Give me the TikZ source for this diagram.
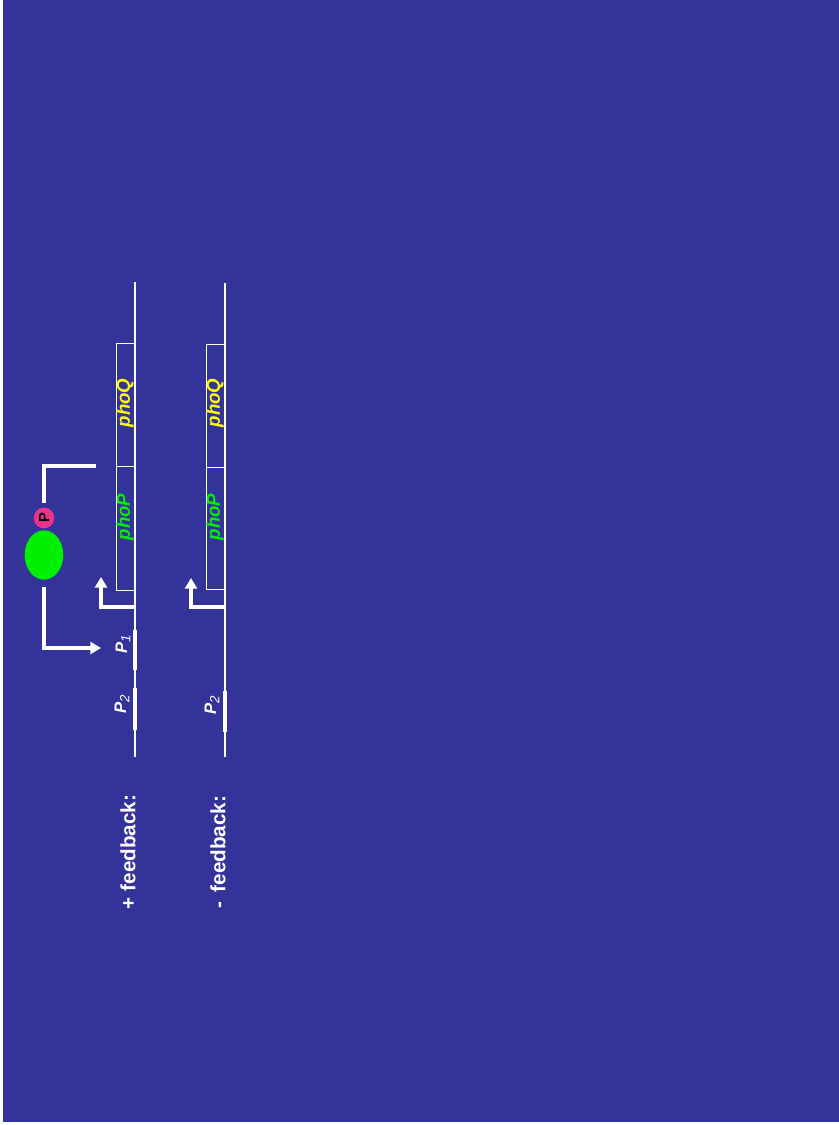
\documentclass[tikz,border=0pt]{standalone}
\usepackage{fontspec}
\setmainfont{Liberation Sans}
\usetikzlibrary{positioning,arrows.meta,shapes.geometric}

\definecolor{slideblue}{RGB}{51,51,153}
\definecolor{genegreen}{RGB}{0,240,0}
\definecolor{phospink}{RGB}{235,50,140}
\definecolor{geneyellow}{RGB}{255,255,0}

\begin{document}
\begin{tikzpicture}[
  x=0.75pt, y=-0.75pt,
  dna/.style={draw=white, line width=1.4pt},
  genebox/.style={draw=white, line width=0.7pt, rotate=90, minimum width=92pt, minimum height=14pt, inner sep=0pt},
  genelbl/.style={font=\fontsize{14}{15}\selectfont\bfseries\itshape, rotate=90, inner sep=0pt},
  promseg/.style={draw=white, line width=3.6pt},
  promlbl/.style={text=white, font=\fontsize{12.5}{13}\selectfont\bfseries\itshape, rotate=90, inner sep=0pt},
  arr/.style={draw=white, line width=2.8pt, -{Triangle[length=8pt,width=9pt]}},
  fbline/.style={draw=white, line width=2.8pt},
  rowlbl/.style={text=white, font=\fontsize{15.5}{16}\selectfont\bfseries, rotate=90, inner sep=0pt}
]
  % slide background
  \useasboundingbox (0,0) rectangle (839,1125);
  \fill[white] (0,0) rectangle (839,1125);
  \fill[slideblue] (3,0) rectangle (839,1122);

  % + feedback row
  \coordinate (topA) at (135,282);
  \coordinate (topB) at (135,757);
  \draw[dna] (topA) -- (topB);
  \node[genebox] (phoQa) at (125.5,405) {};
  \node[genebox, minimum width=93pt] (phoPa) at (125.5,528) {};
  \node[genelbl, text=geneyellow] (phoQatxt) at (125,403) {phoQ};
  \node[genelbl, text=genegreen] (phoPatxt) at (125,517) {phoP};
  \coordinate (tssA) at (135,607);
  \coordinate (tipA) at (101,577);
  \draw[arr] (tssA) -| (tipA);
  \coordinate (p1s) at (135,630);
  \coordinate (p1e) at (135,670);
  \draw[promseg] (p1s) -- (p1e);
  \node[promlbl] (p1lbl) at (123,644) {P\raisebox{-0.35ex}{\fontsize{10}{11}\selectfont\mdseries 1}};
  \coordinate (p2s) at (135,688);
  \coordinate (p2e) at (135,730);
  \draw[promseg] (p2s) -- (p2e);
  \node[promlbl] (p2lbl) at (122,704) {P\raisebox{-0.35ex}{\fontsize{10}{11}\selectfont\mdseries 2}};
  \node[rowlbl] (plusfb) at (128,852) {+ feedback:};

  % phosphorylated PhoP loop
  \node[ellipse, fill=genegreen, minimum width=29pt, minimum height=37pt, inner sep=0pt] (phoPprot) at (44,555) {};
  \node[circle, fill=phospink, minimum size=15.5pt, inner sep=0pt,
        font=\fontsize{11}{12}\selectfont\bfseries] (phos) at (44,518) {\rotatebox{90}{P}};
  \coordinate (fbend) at (96,466);
  \coordinate (p1in) at (101,648);
  \draw[fbline] ([yshift=3.5pt]phos.north) |- (fbend);
  \draw[arr] ([yshift=-5pt]phoPprot.south) |- (p1in);

  % - feedback row
  \coordinate (botA) at (225,283);
  \coordinate (botB) at (225,757);
  \draw[dna] (botA) -- (botB);
  \node[genebox] (phoQb) at (215.5,406) {};
  \node[genebox, minimum width=92pt] (phoPb) at (215.5,528.5) {};
  \node[genelbl, text=geneyellow] (phoQbtxt) at (215,403) {phoQ};
  \node[genelbl, text=genegreen] (phoPbtxt) at (215,517) {phoP};
  \coordinate (tssB) at (225,607);
  \coordinate (tipB) at (191,578);
  \draw[arr] (tssB) -| (tipB);
  \coordinate (p2bs) at (225,691);
  \coordinate (p2be) at (225,732);
  \draw[promseg] (p2bs) -- (p2be);
  \node[promlbl] (p2blbl) at (212,705) {P\raisebox{-0.35ex}{\fontsize{10}{11}\selectfont\mdseries 2}};
  \node[rowlbl] (minusfb) at (218,852) {-\, feedback:};
\end{tikzpicture}
\end{document}
